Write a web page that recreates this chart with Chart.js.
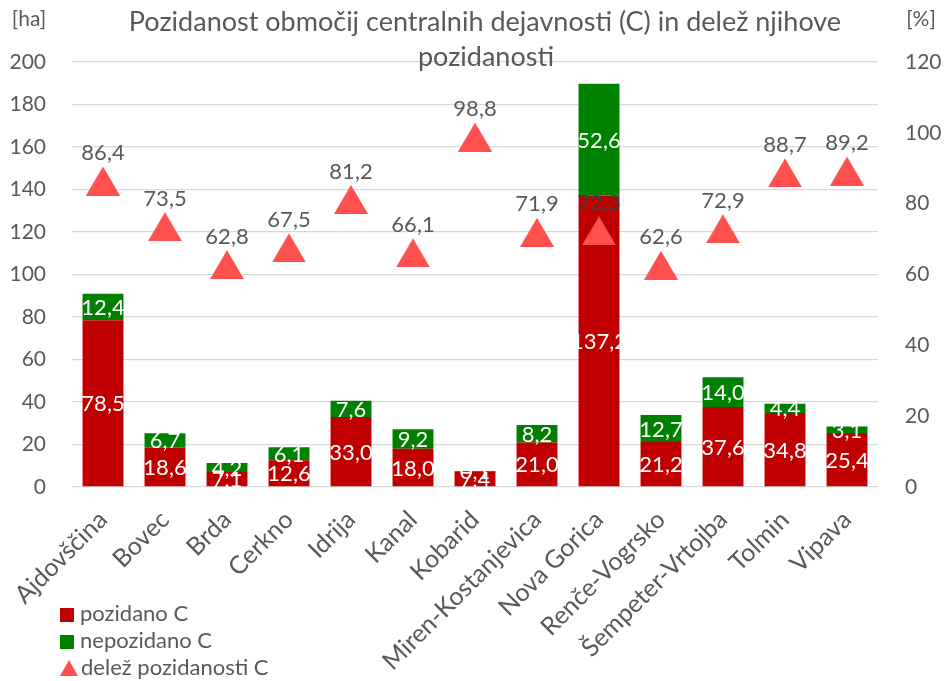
<!DOCTYPE html>
<html>
<head>
<meta charset="utf-8">
<script src="https://cdn.jsdelivr.net/npm/chart.js@4"></script>
<style>
  body { margin: 0; background: #fff; }
  #wrap { position: relative; width: 947px; height: 681px; }
  #legend { position: absolute; left: 60px; top: 599px; font-family: Lato, sans-serif; font-size: 22px; color: #595959; }
  #legend div { height: 27px; line-height: 27px; white-space: nowrap; }
  #legend span.box { display: inline-block; width: 14px; height: 14px; margin-right: 6px; vertical-align: -1px; }
  #legend span.tri { display: inline-block; width: 0; height: 0; border-left: 9px solid transparent; border-right: 9px solid transparent; border-bottom: 16px solid #ff5050; margin-right: 3px; vertical-align: -1px; }
</style>
</head>
<body>
<div id="wrap">
  <canvas id="myChart" width="947" height="681"></canvas>
  <div id="legend"></div>
</div>
<script>
// podatki ----------------------------------------
const obcine = ['Ajdovščina', 'Bovec', 'Brda', 'Cerkno', 'Idrija', 'Kanal', 'Kobarid',
                'Miren-Kostanjevica', 'Nova Gorica', 'Renče-Vogrsko', 'Šempeter-Vrtojba', 'Tolmin', 'Vipava'];
const pozidano   = [78.5, 18.6, 7.1, 12.6, 33.0, 18.0, 7.4, 21.0, 137.2, 21.2, 37.6, 34.8, 25.4];   // ha
const nepozidano = [12.4, 6.7, 4.2, 6.1, 7.6, 9.2, 0.1, 8.2, 52.6, 12.7, 14.0, 4.4, 3.1];         // ha
const delez      = [86.4, 73.5, 62.8, 67.5, 81.2, 66.1, 98.8, 71.9, 72.3, 62.6, 72.9, 88.7, 89.2]; // %

const sivo = '#595959';
const pisava = 'Lato, sans-serif';
const fmt = v => v.toFixed(1).replace('.', ',');

// trikotnik kot marker (sredina okvirja na vrednosti)
const trikotnik = document.createElement('canvas');
trikotnik.width = 34;
trikotnik.height = 29;
(function () {
    const t = trikotnik.getContext('2d');
    t.fillStyle = '#ff5050';
    t.beginPath();
    t.moveTo(17, 0);
    t.lineTo(34, 29);
    t.lineTo(0, 29);
    t.closePath();
    t.fill();
})();

// napisi na stolpcih in trikotnikih
const napisi = {
    id: 'napisi',
    afterDatasetsDraw(chart) {
        const c = chart.ctx;
        c.save();
        c.font = '22px ' + pisava;
        c.textAlign = 'center';
        c.textBaseline = 'middle';
        chart.data.datasets.forEach((ds, di) => {
            const meta = chart.getDatasetMeta(di);
            meta.data.forEach((el, i) => {
                if (ds.type === 'line') {
                    c.fillStyle = i === 8 ? '#404040' : sivo;
                    c.fillText(fmt(ds.data[i]), el.x, el.y - 28);
                } else {
                    c.fillStyle = '#ffffff';
                    c.fillText(fmt(ds.data[i]), el.x, (el.y + el.base) / 2 + 1);
                }
            });
        });
        c.restore();
    },
    afterDraw(chart) {
        const c = chart.ctx;
        c.save();
        c.fillStyle = sivo;
        c.textAlign = 'center';
        c.textBaseline = 'middle';
        c.font = '27px ' + pisava;
        c.fillText('Pozidanost območij centralnih dejavnosti (C) in delež njihove', 485, 22);
        c.fillText('pozidanosti', 486, 57);
        c.font = '21px ' + pisava;
        c.fillText('[ha]', 29, 19);
        c.fillText('[%]', 921, 19);
        c.restore();
    }
};

const ctx = document.getElementById('myChart');
const chart = new Chart(ctx, {
    data: {
        labels: obcine,
        datasets: [{
            type: 'line',
            label: 'delež pozidanosti C',
            data: delez,
            yAxisID: 'y1',
            showLine: false,
            pointStyle: trikotnik,
            pointRadius: 17,
            pointHoverRadius: 17,
            backgroundColor: '#ff5050',
            borderColor: '#ff5050',
            order: 0
        }, {
            type: 'bar',
            label: 'pozidano C',
            data: pozidano,
            backgroundColor: '#c00000',
            barPercentage: 0.66,
            categoryPercentage: 1,
            order: 1
        }, {
            type: 'bar',
            label: 'nepozidano C',
            data: nepozidano,
            backgroundColor: '#008000',
            barPercentage: 0.66,
            categoryPercentage: 1,
            order: 1
        }]
    },
    options: {
        responsive: false,
        animation: false,
        devicePixelRatio: 1,
        layout: { padding: { top: 62, right: 0, bottom: 0, left: 0 } },
        plugins: {
            legend: { display: false },
            title: { display: false },
            tooltip: { enabled: false }
        },
        scales: {
            x: {
                stacked: true,
                grid: { display: false },
                border: { display: false },
                ticks: { color: sivo, font: { family: pisava, size: 25 }, minRotation: 45, maxRotation: 45, padding: 10 },
                afterFit(scale) { scale.height = 194; }
            },
            y: {
                stacked: true,
                min: 0, max: 200,
                grid: { color: '#d9d9d9', lineWidth: 1.3, drawTicks: false },
                border: { display: false },
                ticks: { stepSize: 20, color: sivo, font: { family: pisava, size: 21 }, padding: 26 },
                afterFit(scale) { scale.width = 72; }
            },
            y1: {
                position: 'right',
                min: 0, max: 120,
                grid: { display: false, drawTicks: false },
                border: { display: false },
                ticks: { stepSize: 20, color: sivo, font: { family: pisava, size: 21 }, padding: 27 },
                afterFit(scale) { scale.width = 69; }
            }
        }
    },
    plugins: [napisi]
});

// legenda
const legend = document.getElementById('legend');
[chart.data.datasets[1], chart.data.datasets[2], chart.data.datasets[0]].forEach(ds => {
    const row = document.createElement('div');
    const mark = document.createElement('span');
    if (ds.type === 'line') {
        mark.className = 'tri';
    } else {
        mark.className = 'box';
        mark.style.background = ds.backgroundColor;
    }
    row.appendChild(mark);
    row.appendChild(document.createTextNode(ds.label));
    legend.appendChild(row);
});
</script>
</body>
</html>
